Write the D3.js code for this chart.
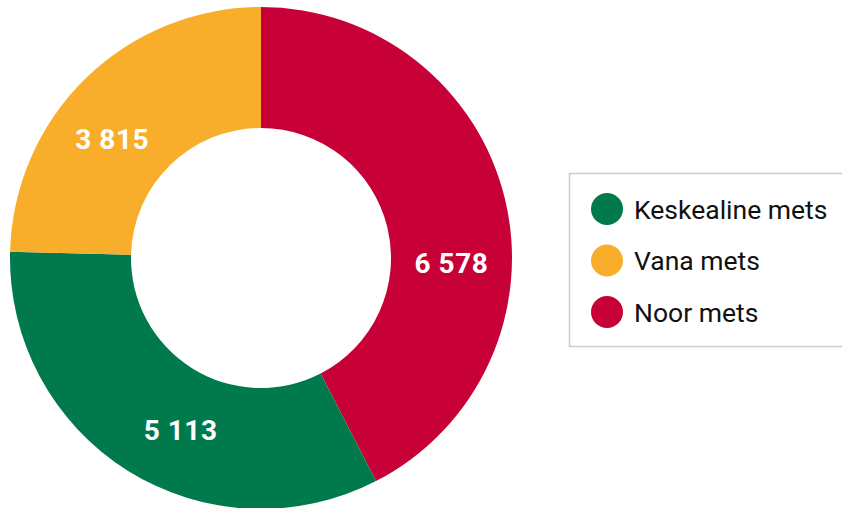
<!DOCTYPE html>
<html>
<head>
<meta charset="utf-8">
<script src="https://cdn.jsdelivr.net/npm/d3@7"></script>
<style>
  body { margin: 0; background: #fff; }
  text { font-family: Roboto, "Noto Sans", sans-serif; }
</style>
</head>
<body>
<svg id="chart" width="842" height="508"></svg>
<script>
// data
const categories = ["Noor mets", "Keskealine mets", "Vana mets"];
const values = [6578, 5113, 3815];
const colors = ["#c80038", "#007a4c", "#f8ae2b"];
const legendOrder = ["Keskealine mets", "Vana mets", "Noor mets"];
// where along each slice the number sits (0 = start, 1 = end)
const labelFrac = [0.6, 0.44, 0.42];

const width = 842, height = 508;
const cx = 261, cy = 258;
const outerR = 251, innerR = 130;

const svg = d3.select("#chart");
const data = categories.map((c, i) => ({ name: c, value: values[i], color: colors[i], frac: labelFrac[i] }));

const pie = d3.pie().sort(null).value((d) => d.value);
const arc = d3.arc().innerRadius(innerR).outerRadius(outerR);

const g = svg.append("g").attr("transform", `translate(${cx},${cy})`);

const arcs = pie(data);
g.selectAll("path")
  .data(arcs)
  .join("path")
  .attr("d", arc)
  .attr("fill", (d) => d.data.color);

const fmt = (v) => d3.format(",")(v).replace(/,/g, " ");
const labelR = (innerR + outerR) / 2;

g.selectAll("text.val")
  .data(arcs)
  .join("text")
  .attr("class", "val")
  .attr("x", (d) => {
    const a = d.startAngle + d.data.frac * (d.endAngle - d.startAngle);
    return labelR * Math.sin(a);
  })
  .attr("y", (d) => {
    const a = d.startAngle + d.data.frac * (d.endAngle - d.startAngle);
    return -labelR * Math.cos(a);
  })
  .attr("text-anchor", "middle")
  .attr("dominant-baseline", "central")
  .attr("fill", "#fff")
  .attr("font-weight", "bold")
  .attr("font-size", 28)
  .attr("letter-spacing", 0.5)
  .text((d) => fmt(d.data.value));

// legend
const legend = svg.append("g");
legend.append("rect")
  .attr("x", 569.5)
  .attr("y", 173.5)
  .attr("width", 290)
  .attr("height", 173)
  .attr("fill", "#fff")
  .attr("stroke", "#cccccc")
  .attr("stroke-width", 1.5);

const ly = d3.scalePoint().domain(legendOrder).range([209, 312]);
const colorOf = d3.scaleOrdinal().domain(categories).range(colors);

const items = legend.selectAll("g.item")
  .data(legendOrder)
  .join("g")
  .attr("class", "item")
  .attr("transform", (d) => `translate(607,${ly(d)})`);

items.append("circle").attr("r", 16).attr("fill", (d) => colorOf(d));
items.append("text")
  .attr("x", 27)
  .attr("dominant-baseline", "central")
  .attr("font-size", 26.5)
  .attr("fill", "#111")
  .text((d) => d);
</script>
</body>
</html>
